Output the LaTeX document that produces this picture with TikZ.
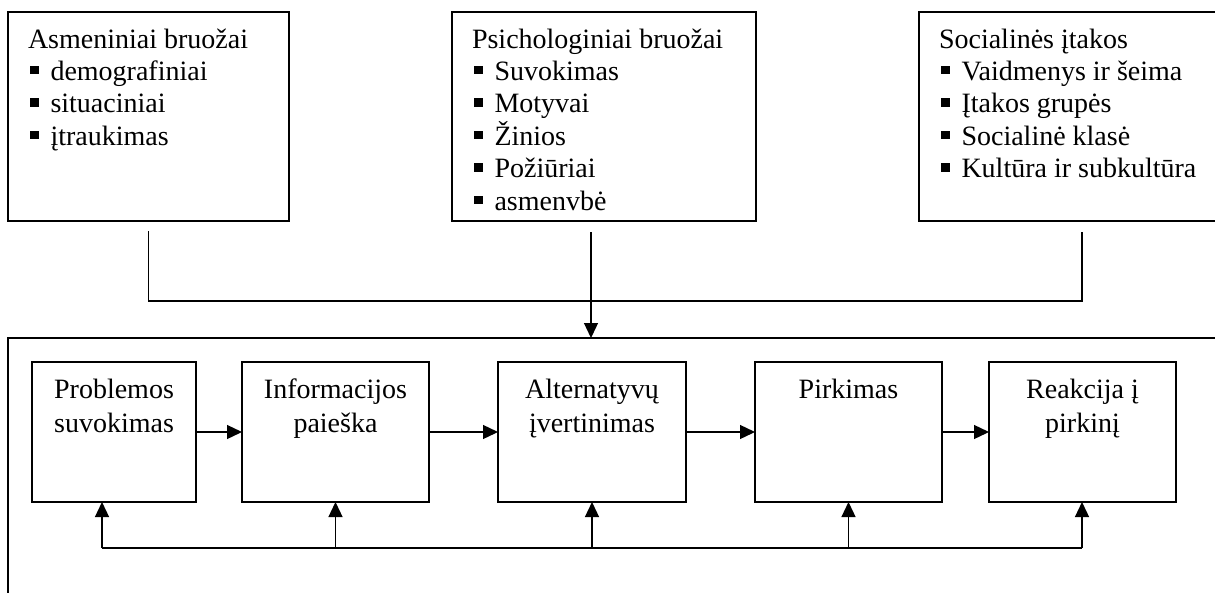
\documentclass[tikz,border=0pt]{standalone}
\usepackage{fontspec}
\setmainfont{Liberation Serif}
\usetikzlibrary{arrows.meta,calc}

% small square bullet used in the factor lists
\newcommand\sqbullet{\hspace*{2pt}\rule[6pt]{8.5pt}{8.5pt}\hspace{12pt}}

\begin{document}
\begin{tikzpicture}[x=1pt,y=-1pt,
  factorbox/.style={draw, line width=1.8pt, anchor=north west, inner xsep=20pt,
    inner ysep=0pt, outer sep=0pt, font=\fontsize{28pt}{32.4pt}\selectfont},
  stagebox/.style={draw, line width=1.8pt, anchor=north west, inner sep=0pt,
    outer sep=0pt, font=\fontsize{28pt}{34pt}\selectfont},
  frame/.style={draw, line width=1.6pt, anchor=north west, inner sep=0pt, outer sep=0pt},
  link/.style={line width=1.3pt},
  arr/.style={line width=1.3pt, -{Triangle[length=15pt,width=14pt]}}]
\useasboundingbox (0,0) rectangle (1215,592);
\clip (0,0) rectangle (1215,592);

% ---- influencing factors ----
\node[factorbox] (pers) at (8,12) {\parbox[c][209pt][t]{241pt}{\raggedright
  \rule{0pt}{36pt}Asmeniniai bruožai\\
  \sqbullet demografiniai\\
  \sqbullet situaciniai\\
  \sqbullet įtraukimas}};
\node[factorbox] (psych) at (452,12) {\parbox[c][209pt][t]{264pt}{\raggedright
  \rule{0pt}{36pt}Psichologiniai bruožai\\
  \sqbullet Suvokimas\\
  \sqbullet Motyvai\\
  \sqbullet Žinios\\
  \sqbullet Požiūriai\\
  \sqbullet asmenvbė}};
\node[factorbox] (soc) at (919,12) {\parbox[c][209pt][t]{270pt}{\raggedright
  \rule{0pt}{36pt}Socialinės įtakos\\
  \sqbullet Vaidmenys ir šeima\\
  \sqbullet Įtakos grupės\\
  \sqbullet Socialinė klasė\\
  \sqbullet Kultūra ir subkultūra}};

% ---- decision process frame ----
\node[frame, minimum width=1240pt, minimum height=300pt] (proc) at (8,338) {};

% ---- decision stages ----
\node[stagebox] (s1) at (32,362) {\parbox[c][140pt][t]{164pt}{\centering
  \rule{0pt}{36pt}Problemos\\suvokimas}};
\node[stagebox] (s2) at (242,362) {\parbox[c][140pt][t]{187pt}{\centering
  \rule{0pt}{36pt}Informacijos\\paieška}};
\node[stagebox] (s3) at (498,362) {\parbox[c][140pt][t]{188pt}{\centering
  \rule{0pt}{36pt}Alternatyvų\\įvertinimas}};
\node[stagebox] (s4) at (755,362) {\parbox[c][140pt][t]{187pt}{\centering
  \rule{0pt}{36pt}Pirkimas}};
\node[stagebox] (s5) at (989,362) {\parbox[c][140pt][t]{187pt}{\centering
  \rule{0pt}{36pt}Reakcija į\\pirkinį}};

% ---- factors feeding into the process ----
\coordinate (pl) at ($(pers.south)+(0,10)$);
\coordinate (pm) at (591,232);
\coordinate (pr) at (1082,232);
\coordinate (join) at (148,301);
\draw[link] (pl) -- (pl |- join) -- (pr |- join) -- (pr);
\draw[arr] (pm) -- (pm |- proc.north);

% ---- stage sequence ----
\draw[arr] (s1.east) -- (s2.west);
\draw[arr] (s2.east) -- (s3.west);
\draw[arr] (s3.east) -- (s4.west);
\draw[arr] (s4.east) -- (s5.west);

% ---- feedback line ----
\coordinate (fbl) at (102,548);
\coordinate (fbr) at (1082,548);
\draw[link] (fbl) -- (fbr);
\draw[arr] (fbl) -- (fbl |- s1.south);
\draw[arr] (s2.south |- fbl) -- (s2.south);
\draw[arr] (s3.south |- fbl) -- (s3.south);
\draw[arr] (s4.south |- fbl) -- (s4.south);
\draw[arr] (fbr) -- (fbr |- s5.south);
\end{tikzpicture}
\end{document}
